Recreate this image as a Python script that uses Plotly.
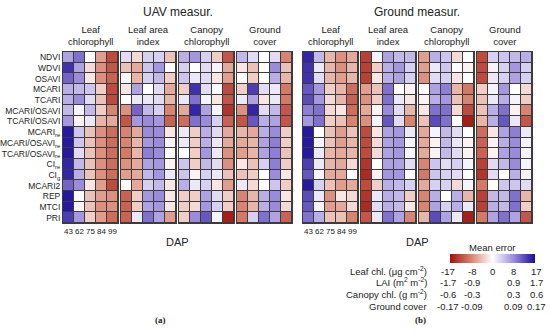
import plotly.graph_objects as go

# ---------------- data ----------------
indices = ["NDVI", "WDVI", "OSAVI", "MCARI", "TCARI", "MCARI/OSAVI", "TCARI/OSAVI",
           "MCARI<sub>re</sub>", "MCARI/OSAVI<sub>re</sub>", "TCARI/OSAVI<sub>re</sub>",
           "CI<sub>re</sub>", "CI<sub>g</sub>", "MCARI2", "REP", "MTCI", "PRI"]
dap = ["43", "62", "75", "84", "99"]
panel_titles = ["UAV measur.", "Ground measur."]
trait_titles = ["Leaf<br>chlorophyll", "Leaf area<br>index", "Canopy<br>chlorophyll", "Ground<br>cover"]

# mean error, relative to the colour scale limit (-1 .. 1)
uav_leaf_chl = [
    [0.40, 0.60, 0.00, -0.40, -0.75],
    [0.85, 0.40, -0.15, -0.45, -0.70],
    [0.65, 0.50, -0.10, -0.45, -0.65],
    [0.35, 0.30, 0.25, -0.20, -0.75],
    [0.35, 0.50, 0.15, -0.25, -0.75],
    [0.30, 0.05, 0.30, -0.20, -0.50],
    [0.45, -0.05, 0.10, -0.30, -0.35],
    [0.95, 0.25, -0.25, -0.45, -0.60],
    [0.95, 0.25, -0.25, -0.45, -0.60],
    [0.95, 0.15, -0.25, -0.45, -0.60],
    [0.90, 0.30, -0.25, -0.45, -0.60],
    [0.90, 0.35, -0.25, -0.45, -0.60],
    [0.65, 0.50, -0.10, -0.40, -0.75],
    [0.95, 0.02, -0.25, -0.40, -0.45],
    [0.95, -0.05, -0.25, -0.45, -0.45],
    [0.80, 0.45, -0.20, -0.40, -0.60],
]
uav_lai = [
    [0.15, -0.15, 0.20, 0.20, -0.25],
    [-0.25, -0.35, 0.25, 0.45, 0.02],
    [0.00, -0.30, 0.20, 0.30, -0.20],
    [-0.10, 0.40, 0.00, 0.15, -0.35],
    [0.00, 0.10, 0.10, 0.15, -0.30],
    [-0.45, 0.65, 0.30, 0.20, -0.50],
    [-0.70, 0.45, 0.50, 0.45, -0.65],
    [-0.50, -0.35, 0.50, 0.50, -0.10],
    [-0.50, -0.30, 0.45, 0.50, 0.05],
    [-0.55, -0.30, 0.55, 0.50, 0.00],
    [-0.45, -0.35, 0.40, 0.45, -0.05],
    [-0.40, -0.35, 0.30, 0.45, 0.10],
    [0.00, -0.35, 0.20, 0.30, -0.10],
    [-0.65, -0.20, 0.45, 0.50, -0.10],
    [-0.65, -0.20, 0.40, 0.45, -0.10],
    [-0.65, 0.10, 0.60, 0.40, -0.40],
]
uav_canopy_chl = [
    [0.35, 0.45, 0.20, -0.20, -0.70],
    [0.20, 0.00, 0.15, 0.05, -0.35],
    [0.25, 0.10, 0.15, -0.10, -0.40],
    [-0.20, 0.85, 0.15, 0.00, -0.75],
    [0.10, 0.60, 0.05, -0.10, -0.70],
    [-0.35, 0.90, 0.40, 0.05, -0.85],
    [-0.60, 0.60, 0.50, 0.20, -0.65],
    [0.10, -0.20, 0.35, 0.15, -0.35],
    [0.10, -0.20, 0.35, 0.10, -0.35],
    [0.00, -0.20, 0.45, 0.10, -0.45],
    [0.25, -0.20, 0.30, 0.15, -0.45],
    [0.25, -0.05, 0.20, 0.10, -0.25],
    [0.35, 0.10, 0.20, -0.10, -0.40],
    [-0.20, -0.20, 0.40, 0.15, -0.20],
    [-0.20, -0.15, 0.45, 0.20, -0.20],
    [-0.20, 0.50, 0.70, 0.05, -0.95],
]
uav_ground_cover = [
    [0.30, 0.15, 0.00, 0.15, -0.50],
    [-0.10, -0.25, 0.00, 0.50, -0.25],
    [0.00, -0.20, 0.00, 0.35, -0.30],
    [-0.20, 0.80, 0.15, 0.10, -0.55],
    [0.10, 0.40, -0.10, 0.10, -0.55],
    [-0.45, 0.90, 0.15, 0.30, -0.70],
    [-0.70, 0.70, 0.35, 0.40, -0.70],
    [-0.30, -0.35, 0.35, 0.50, -0.20],
    [-0.35, -0.30, 0.40, 0.55, -0.20],
    [-0.40, -0.30, 0.40, 0.55, -0.25],
    [-0.10, -0.25, 0.20, 0.55, -0.20],
    [-0.25, -0.20, 0.00, 0.50, -0.10],
    [0.10, -0.15, 0.00, 0.25, -0.20],
    [-0.50, -0.30, 0.35, 0.50, -0.10],
    [-0.50, -0.30, 0.35, 0.50, -0.15],
    [-0.55, 0.20, 0.60, 0.40, -0.65],
]
gnd_leaf_chl = [
    [0.90, 0.30, -0.30, -0.45, -0.35],
    [0.85, 0.10, -0.30, -0.45, -0.30],
    [0.85, 0.15, -0.30, -0.40, -0.30],
    [0.70, 0.45, -0.20, -0.30, -0.60],
    [0.75, 0.45, -0.15, -0.30, -0.65],
    [0.55, 0.60, -0.15, -0.10, -0.60],
    [0.45, 0.60, -0.20, -0.25, -0.50],
    [0.95, 0.00, -0.25, -0.40, -0.25],
    [0.95, 0.05, -0.25, -0.40, -0.30],
    [0.95, 0.10, -0.30, -0.35, -0.30],
    [0.80, 0.10, -0.30, -0.35, -0.15],
    [0.70, 0.05, -0.35, -0.35, 0.00],
    [0.95, 0.20, -0.25, -0.40, -0.35],
    [0.75, 0.10, -0.45, -0.10, -0.15],
    [0.70, 0.05, -0.40, -0.35, -0.15],
    [0.60, 0.35, -0.25, -0.25, -0.50],
]
gnd_lai = [
    [-0.80, 0.05, 0.40, 0.30, 0.30],
    [-0.80, -0.20, 0.35, 0.45, 0.20],
    [-0.80, -0.10, 0.35, 0.40, 0.20],
    [-0.40, -0.25, 0.60, 0.00, -0.05],
    [-0.45, -0.20, 0.60, 0.10, -0.10],
    [-0.35, -0.05, 0.50, 0.15, -0.30],
    [-0.45, 0.05, 0.70, 0.15, -0.50],
    [-0.75, -0.10, 0.40, 0.45, 0.10],
    [-0.75, -0.15, 0.40, 0.45, 0.05],
    [-0.75, -0.15, 0.40, 0.45, 0.05],
    [-0.85, 0.00, 0.40, 0.40, 0.15],
    [-0.90, -0.05, 0.45, 0.45, 0.00],
    [-0.75, -0.20, 0.35, 0.30, 0.20],
    [-0.85, 0.10, 0.35, 0.30, -0.20],
    [-0.90, 0.15, 0.35, 0.30, -0.10],
    [-0.70, 0.10, 0.60, 0.40, -0.50],
]
gnd_canopy_chl = [
    [-0.40, 0.35, 0.25, -0.15, 0.00],
    [-0.40, 0.10, 0.25, 0.00, -0.05],
    [-0.45, 0.15, 0.20, -0.10, 0.00],
    [0.00, 0.40, 0.55, -0.30, -0.55],
    [-0.05, 0.35, 0.45, -0.25, -0.50],
    [-0.10, 0.60, 0.60, -0.15, -0.75],
    [-0.25, 0.75, 0.60, 0.00, -0.95],
    [-0.35, 0.05, 0.30, 0.15, 0.00],
    [-0.35, -0.05, 0.30, 0.10, -0.05],
    [-0.35, -0.05, 0.30, 0.15, -0.05],
    [-0.50, 0.25, 0.15, 0.20, 0.05],
    [-0.55, 0.25, 0.20, 0.15, 0.00],
    [-0.35, 0.20, 0.20, -0.15, 0.05],
    [-0.50, 0.35, 0.00, 0.35, -0.30],
    [-0.50, 0.40, 0.20, 0.35, 0.10],
    [-0.30, 0.75, 0.40, 0.10, -0.95],
]
gnd_ground_cover = [
    [-0.75, 0.20, 0.25, 0.30, 0.35],
    [-0.75, -0.05, 0.20, 0.45, 0.20],
    [-0.75, 0.10, 0.20, 0.40, 0.20],
    [-0.20, 0.05, 0.45, 0.00, -0.15],
    [-0.25, 0.10, 0.35, 0.05, -0.20],
    [-0.25, 0.35, 0.60, -0.05, -0.50],
    [-0.30, 0.35, 0.70, 0.10, -0.70],
    [-0.60, -0.10, 0.40, 0.55, 0.10],
    [-0.65, -0.05, 0.35, 0.50, 0.05],
    [-0.65, -0.05, 0.40, 0.50, 0.05],
    [-0.80, 0.15, 0.30, 0.50, 0.05],
    [-0.85, 0.15, 0.00, 0.35, -0.05],
    [-0.55, 0.00, 0.25, 0.25, 0.15],
    [-0.80, 0.30, 0.30, 0.60, -0.30],
    [-0.80, 0.35, 0.30, 0.60, -0.20],
    [-0.55, 0.40, 0.60, 0.40, -0.70],
]

legend_rows = ["Leaf chl. (μg cm<sup>-2</sup>)", "LAI (m<sup>2</sup> m<sup>-2</sup>)",
               "Canopy chl. (g m<sup>-2</sup>)", "Ground cover"]
legend_vals = [["-17", "-8", "0", "8", "17"],
               ["-1.7", "-0.9", "", "0.9", "1.7"],
               ["-0.6", "-0.3", "", "0.3", "0.6"],
               ["-0.17", "-0.09", "", "0.09", "0.17"]]
panel_tags = ["(a)", "(b)"]

matrices = [uav_leaf_chl, uav_lai, uav_canopy_chl, uav_ground_cover,
            gnd_leaf_chl, gnd_lai, gnd_canopy_chl, gnd_ground_cover]

# ---------------- layout helpers ----------------
W, H = 550, 334
def px_x(x):
    return x / W
def px_y(y):
    return 1 - y / H

colorscale = [[0.0, "#a3120c"], [0.25, "#d98470"], [0.5, "#ffffff"],
              [0.75, "#9b8bdb"], [1.0, "#1a0a9a"]]

panel_x0 = [63, 303]
hm_w, hm_step = 55, 58
top, bottom = 52, 223
FONT = "Liberation Sans, Arial, sans-serif"
TXT = "#222222"

fig = go.Figure()
layout = {}
annotations = []

def note(x, y, text, size, xanchor="center", family=FONT):
    annotations.append(dict(x=px_x(x), y=px_y(y), xref="paper", yref="paper",
                            text=text, showarrow=False, xanchor=xanchor, yanchor="middle",
                            font=dict(size=size, color=TXT, family=family)))

for k, z in enumerate(matrices):
    p, m = divmod(k, 4)
    x0 = panel_x0[p] + m * hm_step
    x1 = x0 + hm_w
    n = k + 1
    xa = "x" if n == 1 else f"x{n}"
    ya = "y" if n == 1 else f"y{n}"
    fig.add_trace(go.Heatmap(
        z=z, x=list(range(len(dap))), y=list(range(len(indices))),
        xaxis=xa, yaxis=ya, colorscale=colorscale, zmin=-1, zmax=1,
        xgap=1, ygap=1, showscale=(k == 0), hoverinfo="skip",
        colorbar=dict(orientation="h", x=px_x(492), xanchor="center",
                      y=px_y(263), yanchor="bottom", lenmode="pixels", len=85,
                      thicknessmode="pixels", thickness=9, xpad=0, ypad=0,
                      showticklabels=False, ticks="", outlinewidth=0),
    ))
    xkey = "xaxis" if n == 1 else f"xaxis{n}"
    ykey = "yaxis" if n == 1 else f"yaxis{n}"
    layout[xkey] = dict(domain=[px_x(x0), px_x(x1)], anchor=ya, range=[-0.5, 4.5],
                        tickvals=list(range(5)), ticktext=dap, tickangle=0,
                        showticklabels=(m == 0), automargin=False,
                        tickfont=dict(size=8, color=TXT, family=FONT), ticks="",
                        showgrid=False, zeroline=False, showline=True, mirror=True,
                        linecolor="#3c3c3c", linewidth=1, fixedrange=True)
    layout[ykey] = dict(domain=[px_y(bottom), px_y(top)], anchor=xa, range=[15.5, -0.5],
                        tickvals=list(range(len(indices))), ticktext=indices,
                        showticklabels=(k == 0), automargin=False,
                        tickfont=dict(size=8.5, color=TXT, family=FONT), ticks="",
                        showgrid=False, zeroline=False, showline=True, mirror=True,
                        linecolor="#3c3c3c", linewidth=1, fixedrange=True)
    note((x0 + x1) / 2, 35, trait_titles[k % 4], 9.5)

for p in range(2):
    cx = panel_x0[p] + (3 * hm_step + hm_w) / 2
    note(cx, 12, panel_titles[p], 12)
    note(cx, 242, "DAP", 11)
for p, xx in enumerate([160, 420]):
    note(xx, 320, "<b>" + panel_tags[p] + "</b>", 9, family="Liberation Serif, serif")

note(492, 247, "Mean error", 9.5)
row_y = [271, 282, 294, 306]
col_x = [448, 472, 492, 513, 536]
for r, lab in enumerate(legend_rows):
    note(429, row_y[r], lab, 9.5, xanchor="right")
    for c, v in enumerate(legend_vals[r]):
        if v:
            note(col_x[c], row_y[r], v, 9.5)

fig.update_layout(**layout)
fig.update_layout(width=W, height=H, margin=dict(l=0, r=0, t=0, b=0, autoexpand=False),
                  paper_bgcolor="white", plot_bgcolor="#3c3c3c",
                  font=dict(family=FONT, color=TXT),
                  annotations=annotations, showlegend=False)
fig.write_html("out.html", config={"displayModeBar": False},
               post_script="document.body.style.margin='0px';")
